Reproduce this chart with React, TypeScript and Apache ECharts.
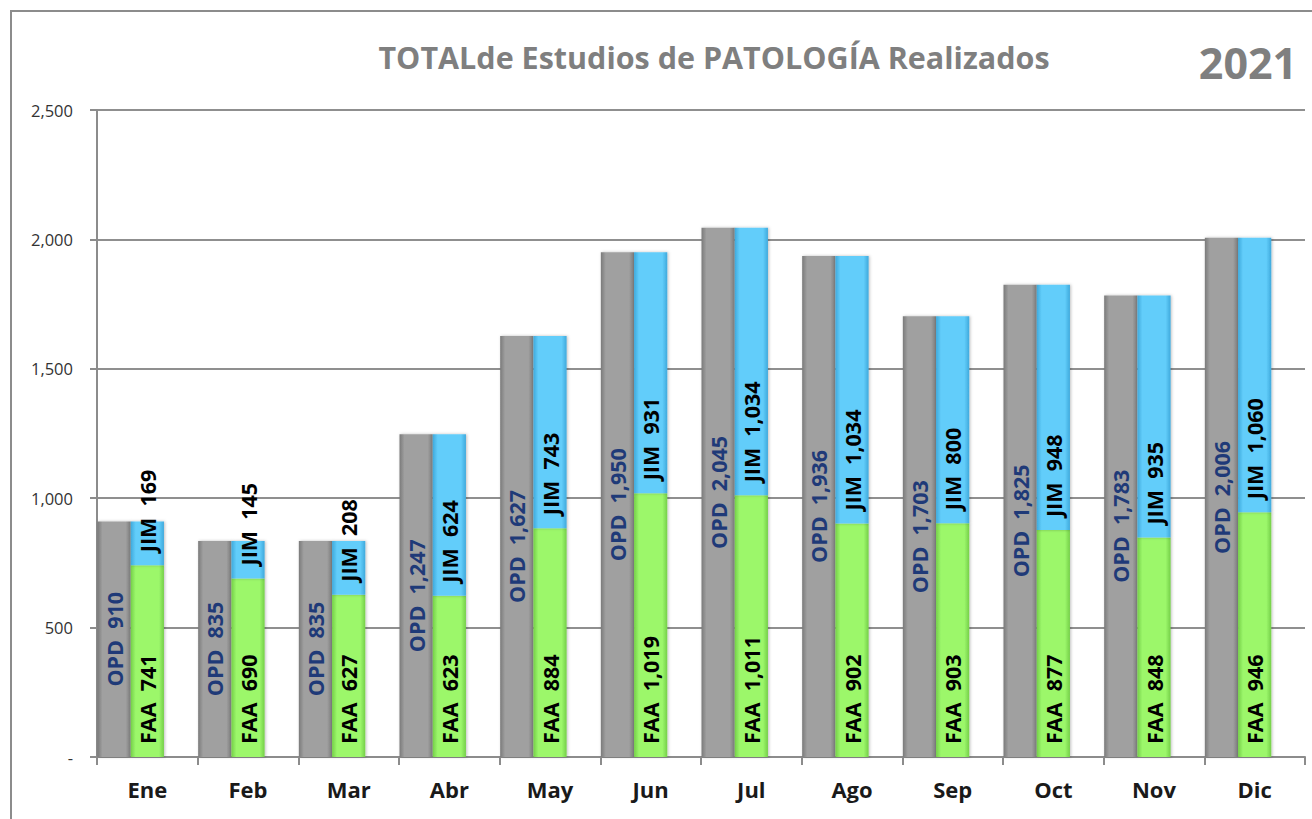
import React, { useEffect, useRef } from "react";
import * as echarts from "echarts";

const months = ["Ene", "Feb", "Mar", "Abr", "May", "Jun", "Jul", "Ago", "Sep", "Oct", "Nov", "Dic"];
const opd = [910, 835, 835, 1247, 1627, 1950, 2045, 1936, 1703, 1825, 1783, 2006];
const faa = [741, 690, 627, 623, 884, 1019, 1011, 902, 903, 877, 848, 946];
const jim = [169, 145, 208, 624, 743, 931, 1034, 1034, 800, 948, 935, 1060];
const emptySlot = [null, null, null, null, null, null, null, null, null, null, null, null];
const yMin = 0;
const yMax = 2500;
const yStep = 500;
const titleText = "TOTALde Estudios de PATOLOGÍA Realizados";
const yearText = "2021";

const fmt = (v: number) => v.toLocaleString("en-US");

const grad = (edge: string, mid: string) =>
  new echarts.graphic.LinearGradient(0, 0, 1, 0, [
    { offset: 0, color: edge },
    { offset: 0.15, color: mid },
    { offset: 0.85, color: mid },
    { offset: 1, color: edge },
  ]);

const labelFont = "'Open Sans'";
const labelSize = 21.5;

export default function App() {
  const ref = useRef<HTMLDivElement>(null);
  useEffect(() => {
    if (!ref.current) return;
    const chart = echarts.init(ref.current, undefined, { renderer: "svg" });
    const shadow = { shadowColor: "rgba(0,0,0,0.25)", shadowBlur: 3, shadowOffsetX: 1, shadowOffsetY: 0 };
    chart.setOption({
      animation: false,
      backgroundColor: "#ffffff",
      graphic: [
        {
          type: "rect",
          shape: { x: 11, y: 11, width: 1320, height: 830 },
          style: { fill: "none", stroke: "#8c8c8c", lineWidth: 2 },
          silent: true,
          z: -1,
        },
        {
          type: "text",
          x: 714,
          y: 57,
          style: {
            text: titleText,
            font: "bold 30.5px 'Open Sans'",
            fill: "#7f7f7f",
            align: "center",
            verticalAlign: "middle",
          },
        },
        {
          type: "text",
          x: 1248,
          y: 62,
          style: {
            text: yearText,
            font: "bold 43px 'Open Sans'",
            fill: "#7f7f7f",
            align: "center",
            verticalAlign: "middle",
          },
        },
      ],
      grid: { left: 97, right: 7, top: 110, bottom: 62, containLabel: false, outerBoundsMode: "none" },
      xAxis: {
        type: "category",
        data: months,
        axisLine: { show: true, lineStyle: { color: "#8c8c8c", width: 2 } },
        axisTick: { show: true, length: 8, alignWithLabel: false, lineStyle: { color: "#8c8c8c", width: 2 } },
        axisLabel: {
          color: "#1a1a1a",
          fontFamily: "'Open Sans'",
          fontWeight: "bold",
          fontSize: 22,
          margin: 21,
        },
      },
      yAxis: {
        type: "value",
        min: yMin,
        max: yMax,
        interval: yStep,
        axisLine: { show: true, lineStyle: { color: "#8c8c8c", width: 2 } },
        axisTick: { show: true, length: 7, lineStyle: { color: "#8c8c8c", width: 2 } },
        splitLine: { show: true, lineStyle: { color: "#8f8f8f", width: 2 } },
        axisLabel: {
          color: "#333333",
          fontFamily: "'Open Sans'",
          fontSize: 16.5,
          margin: 24,
          formatter: (v: number) => (v === 0 ? "-" : fmt(v)),
        },
      },
      series: [
        {
          name: "OPD",
          type: "bar",
          data: opd,
          barGap: "0%",
          barCategoryGap: "1%",
          itemStyle: { color: grad("#7a7a7a", "#a0a0a0"), ...shadow },
          label: {
            show: true,
            position: "inside",
            rotate: 90,
            color: "#1f3a78",
            fontFamily: labelFont,
            fontWeight: "bold",
            fontSize: labelSize,
            formatter: (p: any) => "OPD  " + fmt(p.value),
          },
        },
        {
          name: "FAA",
          type: "bar",
          stack: "total",
          data: faa,
          barGap: "0%",
          barCategoryGap: "1%",
          itemStyle: { color: grad("#74cf47", "#9cf76b"), ...shadow },
          label: {
            show: true,
            position: "insideBottom",
            distance: 13,
            rotate: 90,
            align: "left",
            verticalAlign: "middle",
            color: "#000000",
            fontFamily: labelFont,
            fontWeight: "bold",
            fontSize: labelSize,
            formatter: (p: any) => "FAA  " + fmt(p.value),
          },
        },
        {
          name: "JIM",
          type: "bar",
          stack: "total",
          data: jim,
          barGap: "0%",
          barCategoryGap: "1%",
          itemStyle: { color: grad("#3ea9dc", "#62cdfa"), ...shadow },
          label: {
            show: true,
            position: "insideBottom",
            distance: 13,
            rotate: 90,
            align: "left",
            verticalAlign: "middle",
            color: "#000000",
            fontFamily: labelFont,
            fontWeight: "bold",
            fontSize: labelSize,
            formatter: (p: any) => "JIM  " + fmt(p.value),
          },
        },
        {
          name: "slot",
          type: "bar",
          data: emptySlot,
          barGap: "0%",
          barCategoryGap: "1%",
          silent: true,
          itemStyle: { color: "rgba(0,0,0,0)" },
        },
      ],
    });
    return () => chart.dispose();
  }, []);
  return (
    <div
      ref={ref}
      style={{ position: "fixed", left: 0, top: 0, width: 1312, height: 819, background: "#fff" }}
    />
  );
}
